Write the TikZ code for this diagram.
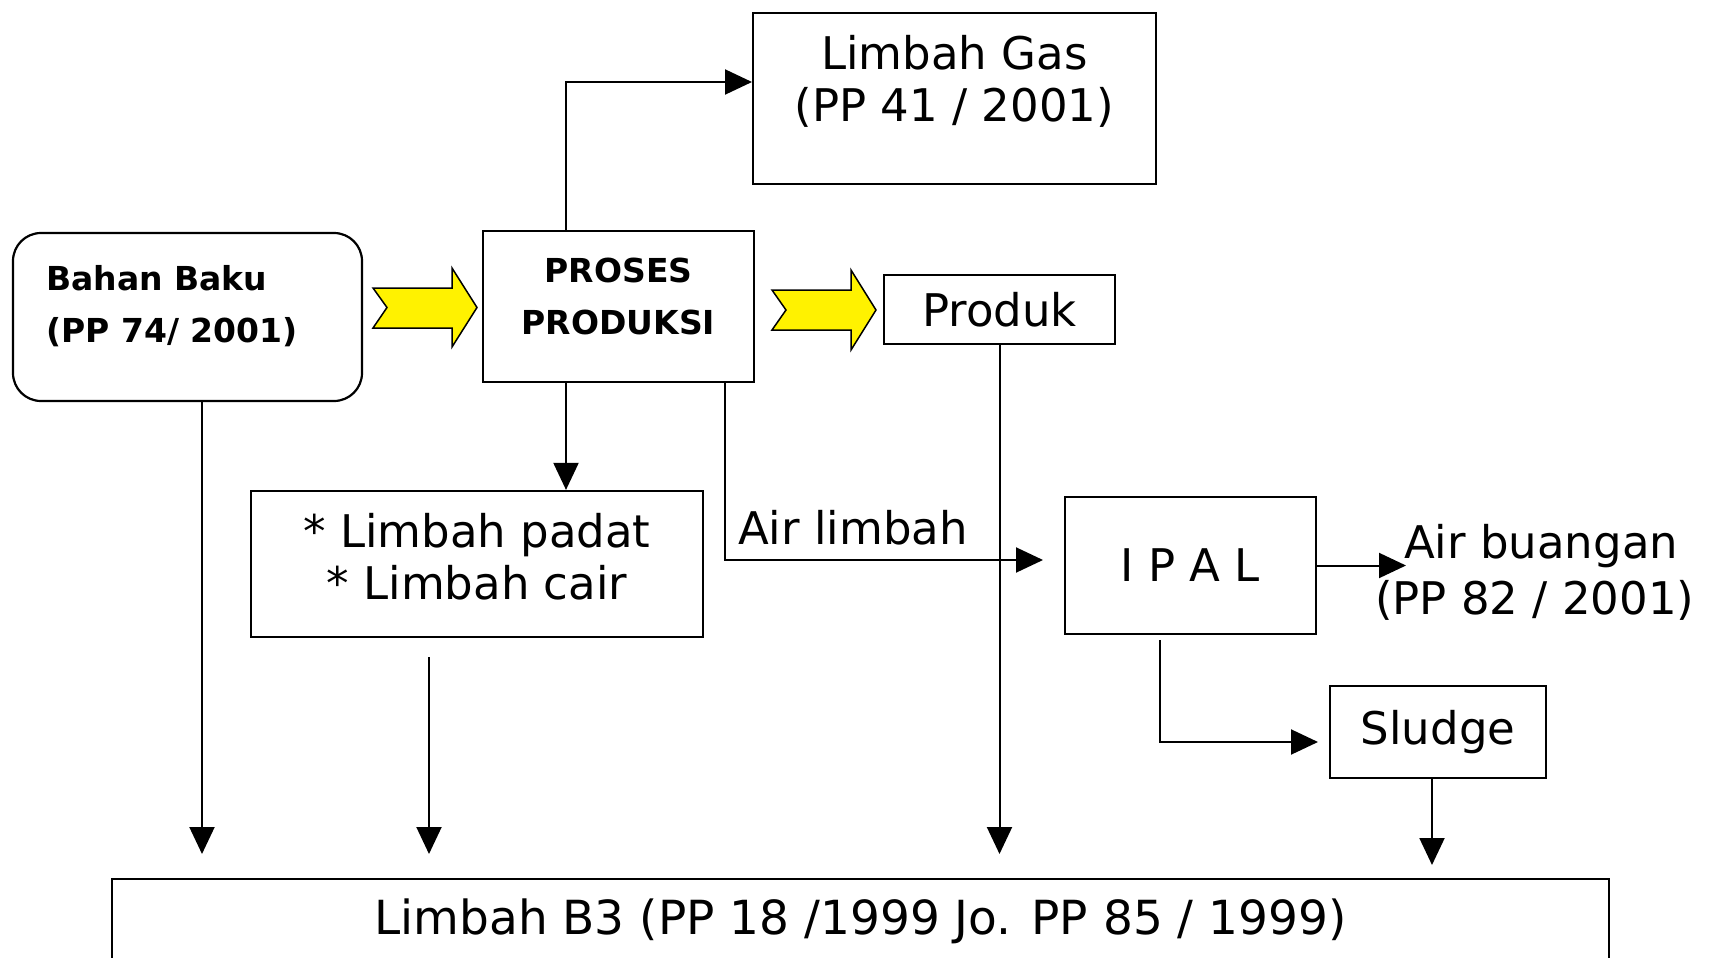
\documentclass[tikz,border=0pt]{standalone}
\usepackage{fontspec}
\setmainfont{DejaVu Sans}
\usetikzlibrary{arrows.meta}
\begin{document}
\begin{tikzpicture}[x=1pt,y=-1pt,
  box/.style={draw, line width=2.2pt, inner sep=0pt},
  txt/.style={font=\fontsize{45}{52}\selectfont, align=center, inner sep=0pt},
  btxt/.style={font=\fontsize{33}{52}\selectfont\bfseries, align=center, inner sep=0pt},
  arr/.style={line width=2pt, -{Triangle[length=27pt,width=25pt]}},
  yarrow/.style={draw=black, line width=1.5pt, fill=yellow, line join=miter}]
\useasboundingbox (0,0) rectangle (1722,958);
\clip (0,0) rectangle (1722,958);

% boxes
\node[box, rounded corners=28pt, minimum width=349pt, minimum height=168pt] (bahan) at (187.5,317) {};
\node[btxt, align=left, anchor=west] (bahant) at (46,306) {Bahan Baku\\(PP 74/ 2001)};

\node[box, minimum width=271pt, minimum height=151pt] (pros) at (618.5,306.5) {};
\node[btxt] (prost) at (618.5,296) {PROSES\\PRODUKSI};

\node[box, minimum width=403pt, minimum height=171pt] (gas) at (954.5,98.5) {};
\node[txt] (gast) at (954.5,81) {Limbah Gas\\(PP 41 / 2001)};

\node[box, txt, minimum width=231pt, minimum height=69pt] (produk) at (999.5,309.5) {Produk};

\node[box, minimum width=452pt, minimum height=146pt] (padat) at (477,564) {};
\node[txt] (padatt) at (477,557) {* Limbah padat\\* Limbah cair};

\node[box, txt, minimum width=251pt, minimum height=137pt] (ipal) at (1190.5,565.5) {I P A L};
\node[box, txt, minimum width=216pt, minimum height=92pt] (sludge) at (1438,732) {Sludge};

\node[box, txt, font=\fontsize{47}{52}\selectfont, minimum width=1497pt, minimum height=84pt] (b3) at (860.5,921) {Limbah B3 (PP 18 /1999 Jo. PP 85 / 1999)};

% labels
\node[txt, anchor=west] (airl) at (738,528) {Air limbah};
\node[txt, anchor=west] (airb) at (1404,546) {Air buangan};
\node[txt, anchor=west] (pp82) at (1375,600) {(PP 82 / 2001)};

% yellow arrows
\draw[yarrow] (373,288) -- (452,288) -- (452,268) -- (477,307.5) -- (452,347) -- (452,328) -- (373,328) -- (387,307.5) -- cycle;
\draw[yarrow] (772,290) -- (851,290) -- (851,270) -- (876,310) -- (851,350) -- (851,330) -- (772,330) -- (786,310) -- cycle;

% connectors
\coordinate (xa) at (566,0);
\coordinate (gasin) at (752,82);
\draw[arr] (pros.north -| xa) |- (gasin);
\draw[arr] (pros.south -| xa) -- (padat.north -| xa);

\coordinate (xb) at (725,0);
\coordinate (limbin) at (1043,560);
\draw[arr] (pros.south -| xb) |- (limbin);

\coordinate (bu) at (1406,565.5);
\draw[arr] (ipal.east) -- (bu);

\coordinate (sa) at (1160,640);
\coordinate (sb) at (1318,742);
\draw[arr] (sa) |- (sb);

\coordinate (d1) at (202,854);
\draw[arr] (bahan.south -| d1) -- (d1);
\coordinate (d2s) at (429,657);
\coordinate (d2) at (429,854);
\draw[arr] (d2s) -- (d2);
\draw[arr] (produk.south) -- (produk.south |- d1);
\coordinate (d4) at (1432,865);
\draw[arr] (sludge.south -| d4) -- (d4);
\end{tikzpicture}
\end{document}
